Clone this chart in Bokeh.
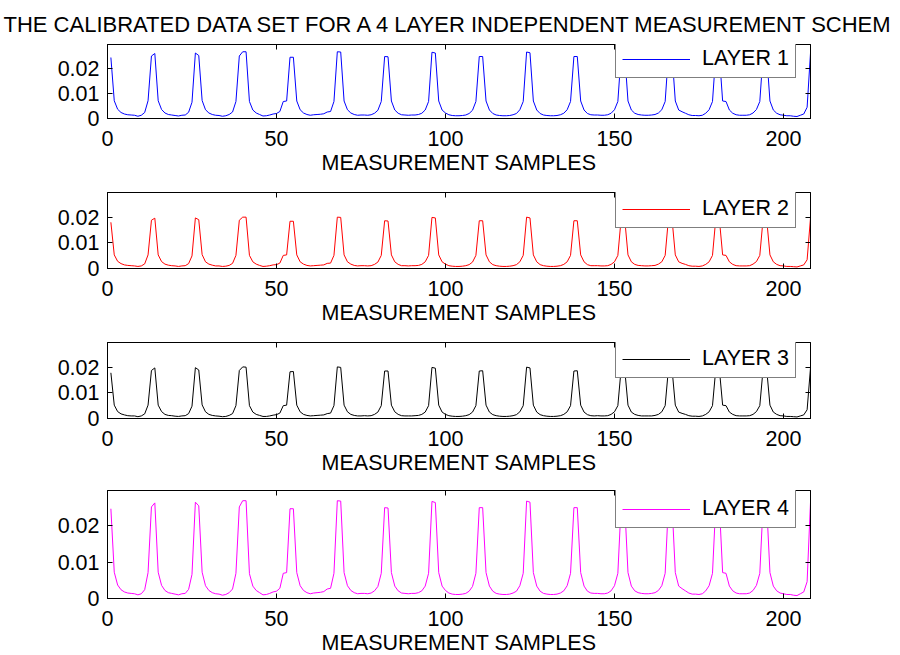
from bokeh.plotting import figure
from bokeh.layouts import column
from bokeh.models import Range1d, FixedTicker, LinearAxis, Legend, LegendItem
from bokeh.embed import file_html
from bokeh.resources import INLINE

TITLE = "THE CALIBRATED DATA SET FOR A 4 LAYER INDEPENDENT MEASUREMENT SCHEM"
X_LABEL = "MEASUREMENT SAMPLES"
X_TICKS = [0, 50, 100, 150, 200]
Y_TICKS = [0, 0.01, 0.02]
Y_TICK_LABELS = ["0", "0.01", "0.02"]
LABELS = ["LAYER 1", "LAYER 2", "LAYER 3", "LAYER 4"]
COLORS = ["#0000ff", "#ff0000", "#000000", "#ff00ff"]

layer1 = [
    .0244, .0071, .0037, .0024, .0018, .0015, .0014, .0013, .0009, .0013, .0024, .0071, .0250, .0260,
    .0071, .0036, .0022, .0016, .0014, .0012, .0010, .0013, .0014, .0025, .0065, .0262, .0252,
    .0072, .0035, .0022, .0016, .0013, .0012, .0009, .0011, .0016, .0026, .0068, .0250, .0267, .0267,
    .0068, .0034, .0022, .0016, .0010, .0011, .0014, .0018, .0020, .0028, .0068, .0070, .0245, .0245,
    .0070, .0035, .0022, .0016, .0013, .0015, .0016, .0017, .0019, .0026, .0028, .0068, .0267, .0266,
    .0070, .0035, .0022, .0016, .0013, .0014, .0014, .0013, .0015, .0021, .0033, .0068, .0248, .0247,
    .0070, .0034, .0021, .0015, .0014, .0013, .0014, .0014, .0016, .0021, .0034, .0068, .0265, .0262,
    .0070, .0034, .0022, .0015, .0012, .0011, .0011, .0012, .0014, .0020, .0033, .0068, .0248, .0248,
    .0070, .0034, .0020, .0014, .0012, .0011, .0011, .0012, .0015, .0020, .0035, .0068, .0266, .0263,
    .0070, .0034, .0020, .0014, .0012, .0011, .0011, .0012, .0015, .0021, .0035, .0068, .0248, .0248,
    .0070, .0034, .0020, .0015, .0014, .0014, .0013, .0013, .0015, .0021, .0035, .0068, .0262, .0262,
    .0070, .0034, .0021, .0016, .0014, .0013, .0013, .0014, .0016, .0022, .0035, .0068, .0265, .0263,
    .0070, .0034, .0027, .0021, .0015, .0012, .0012, .0011, .0013, .0021, .0035, .0068, .0262, .0262,
    .0070, .0068, .0034, .0021, .0015, .0013, .0013, .0013, .0015, .0022, .0036, .0068, .0262, .0262,
    .0070, .0034, .0021, .0015, .0013, .0011, .0011, .0009, .0008, .0013, .0018, .0045, .0262,
]

layer2 = [
    .0180, .0053, .0028, .0019, .0014, .0012, .0011, .0010, .0008, .0010, .0018, .0053, .0188, .0196,
    .0053, .0027, .0017, .0013, .0011, .0010, .0008, .0010, .0011, .0019, .0049, .0197, .0190,
    .0054, .0026, .0017, .0013, .0010, .0010, .0008, .0009, .0012, .0020, .0051, .0188, .0200, .0200,
    .0051, .0026, .0017, .0012, .0008, .0009, .0011, .0014, .0015, .0021, .0051, .0053, .0184, .0184,
    .0053, .0026, .0017, .0012, .0010, .0011, .0012, .0013, .0014, .0020, .0021, .0051, .0200, .0199,
    .0053, .0026, .0017, .0012, .0010, .0011, .0011, .0010, .0011, .0016, .0025, .0051, .0186, .0185,
    .0053, .0026, .0016, .0011, .0011, .0010, .0011, .0011, .0012, .0016, .0026, .0051, .0199, .0197,
    .0053, .0026, .0017, .0011, .0009, .0008, .0008, .0009, .0011, .0015, .0025, .0051, .0186, .0186,
    .0053, .0026, .0015, .0011, .0009, .0008, .0008, .0009, .0011, .0015, .0026, .0051, .0200, .0197,
    .0053, .0026, .0015, .0011, .0009, .0008, .0008, .0009, .0011, .0016, .0026, .0051, .0186, .0186,
    .0053, .0026, .0015, .0011, .0011, .0011, .0010, .0010, .0011, .0016, .0026, .0051, .0197, .0197,
    .0053, .0026, .0016, .0012, .0011, .0010, .0010, .0011, .0012, .0017, .0026, .0051, .0199, .0197,
    .0053, .0026, .0020, .0016, .0011, .0009, .0009, .0008, .0010, .0016, .0026, .0051, .0197, .0197,
    .0053, .0051, .0026, .0016, .0011, .0010, .0010, .0010, .0011, .0017, .0027, .0051, .0197, .0197,
    .0053, .0026, .0016, .0011, .0010, .0008, .0008, .0007, .0006, .0010, .0014, .0034, .0197,
]

layer3 = [
    .0178, .0052, .0027, .0018, .0014, .0011, .0010, .0010, .0007, .0010, .0018, .0052, .0187, .0197,
    .0052, .0027, .0016, .0012, .0011, .0009, .0008, .0010, .0011, .0019, .0048, .0198, .0189,
    .0053, .0026, .0016, .0012, .0010, .0009, .0007, .0008, .0012, .0019, .0050, .0187, .0201, .0200,
    .0050, .0025, .0016, .0012, .0008, .0008, .0010, .0013, .0015, .0021, .0050, .0052, .0182, .0183,
    .0052, .0026, .0016, .0012, .0010, .0011, .0012, .0013, .0014, .0019, .0021, .0050, .0201, .0199,
    .0052, .0026, .0016, .0012, .0010, .0010, .0011, .0010, .0011, .0016, .0025, .0050, .0185, .0185,
    .0052, .0026, .0016, .0011, .0010, .0010, .0010, .0011, .0012, .0016, .0025, .0050, .0199, .0196,
    .0052, .0025, .0016, .0011, .0009, .0008, .0008, .0009, .0011, .0015, .0025, .0050, .0185, .0186,
    .0052, .0025, .0015, .0011, .0009, .0008, .0008, .0009, .0011, .0015, .0026, .0050, .0200, .0197,
    .0052, .0025, .0015, .0011, .0009, .0008, .0008, .0009, .0011, .0016, .0026, .0050, .0185, .0186,
    .0052, .0025, .0015, .0011, .0010, .0011, .0010, .0010, .0011, .0016, .0026, .0050, .0197, .0196,
    .0052, .0025, .0016, .0012, .0010, .0010, .0010, .0010, .0012, .0016, .0026, .0050, .0199, .0197,
    .0052, .0025, .0020, .0016, .0011, .0009, .0009, .0008, .0010, .0016, .0026, .0050, .0196, .0197,
    .0052, .0050, .0025, .0016, .0011, .0010, .0010, .0010, .0011, .0016, .0027, .0050, .0196, .0197,
    .0052, .0025, .0016, .0011, .0010, .0008, .0008, .0007, .0006, .0010, .0014, .0034, .0197,
]

layer4 = [
    .0246, .0072, .0037, .0024, .0018, .0015, .0014, .0013, .0010, .0013, .0024, .0071, .0251, .0262,
    .0072, .0036, .0022, .0016, .0014, .0012, .0010, .0013, .0014, .0025, .0066, .0264, .0254,
    .0072, .0035, .0022, .0016, .0013, .0012, .0009, .0011, .0016, .0026, .0069, .0251, .0268, .0268,
    .0068, .0034, .0022, .0016, .0010, .0011, .0014, .0018, .0020, .0028, .0069, .0071, .0246, .0246,
    .0071, .0035, .0022, .0016, .0013, .0015, .0016, .0017, .0019, .0026, .0028, .0069, .0268, .0267,
    .0071, .0035, .0022, .0016, .0013, .0014, .0014, .0013, .0015, .0021, .0033, .0069, .0249, .0248,
    .0071, .0034, .0021, .0015, .0014, .0013, .0014, .0014, .0016, .0021, .0034, .0069, .0266, .0263,
    .0071, .0034, .0022, .0015, .0012, .0011, .0011, .0012, .0014, .0020, .0033, .0069, .0249, .0249,
    .0071, .0034, .0020, .0014, .0012, .0011, .0011, .0012, .0015, .0020, .0035, .0069, .0267, .0264,
    .0071, .0034, .0020, .0014, .0012, .0011, .0011, .0012, .0015, .0021, .0035, .0069, .0249, .0249,
    .0071, .0034, .0020, .0015, .0014, .0014, .0013, .0013, .0015, .0021, .0035, .0069, .0263, .0263,
    .0071, .0034, .0021, .0016, .0014, .0013, .0013, .0014, .0016, .0022, .0035, .0069, .0266, .0264,
    .0071, .0034, .0027, .0021, .0015, .0012, .0012, .0011, .0013, .0021, .0035, .0069, .0263, .0263,
    .0071, .0069, .0034, .0021, .0015, .0013, .0013, .0013, .0015, .0022, .0036, .0069, .0263, .0263,
    .0071, .0034, .0021, .0015, .0013, .0011, .0011, .0009, .0008, .0013, .0018, .0046, .0264,
]

samples = list(range(1, len(layer1) + 1))
LAYERS = [layer1, layer2, layer3, layer4]

FONT = "Liberation Sans"
FS = "21.5px"

# (border top, frame height, border bottom, legend y from frame bottom)
PANELS = [(44, 74, 64, 40), (10, 76, 64, 40), (10, 76, 64, 40), (8, 108, 57, 70)]


def style_axis(ax, ticks, labels=None, show_labels=True):
    ax.ticker = FixedTicker(ticks=ticks)
    ax.major_tick_in = 5
    ax.major_tick_out = 0
    ax.minor_tick_line_color = None
    ax.axis_line_color = "black"
    ax.major_tick_line_color = "black"
    ax.major_label_text_font = FONT
    ax.major_label_text_font_size = FS
    ax.major_label_text_color = "black"
    if show_labels:
        if labels is not None:
            ax.major_label_overrides = {t: l for t, l in zip(ticks, labels)}
    else:
        ax.major_label_overrides = {t: "" for t in ticks}
        ax.major_label_standoff = 0


figs = []
for i, (ys, color, label) in enumerate(zip(LAYERS, COLORS, LABELS)):
    top, fh, bottom, leg_y = PANELS[i]
    p = figure(frame_width=703, frame_height=fh,
               min_border_left=107, min_border_right=90,
               min_border_top=top, min_border_bottom=bottom,
               x_range=Range1d(0, 208), y_range=Range1d(0, 0.0296),
               output_backend="svg", toolbar_location=None,
               background_fill_color="white", border_fill_color="white")
    p.xgrid.visible = False
    p.ygrid.visible = False
    p.outline_line_color = "black"
    p.outline_line_width = 1
    r = p.line(samples, ys, line_color=color, line_width=1)

    style_axis(p.xaxis[0], X_TICKS)
    p.xaxis[0].major_label_standoff = 12
    p.xaxis[0].axis_label = X_LABEL
    p.xaxis[0].axis_label_text_font = FONT
    p.xaxis[0].axis_label_text_font_size = FS
    p.xaxis[0].axis_label_text_font_style = "normal"
    p.xaxis[0].axis_label_text_color = "black"
    p.xaxis[0].axis_label_standoff = 2
    style_axis(p.yaxis[0], Y_TICKS, Y_TICK_LABELS)
    p.yaxis[0].major_label_standoff = 8

    top_ax = LinearAxis()
    style_axis(top_ax, X_TICKS, show_labels=False)
    p.add_layout(top_ax, "above")
    right_ax = LinearAxis()
    style_axis(right_ax, Y_TICKS, show_labels=False)
    p.add_layout(right_ax, "right")

    legend = Legend(items=[LegendItem(label=label, renderers=[r])],
                    location=(508, leg_y), orientation="vertical",
                    padding=6, margin=0, spacing=0,
                    glyph_width=68, glyph_height=20, label_standoff=12,
                    label_text_font=FONT, label_text_font_size=FS,
                    label_text_color="black",
                    border_line_color="black", border_line_width=1,
                    background_fill_color="white", background_fill_alpha=1)
    p.add_layout(legend, "center")

    if i == 0:
        p.title.text = TITLE
        p.title.text_font = FONT
        p.title.text_font_size = "22px"
        p.title.text_font_style = "normal"
        p.title.text_color = "black"
        p.title.align = "left"
        p.title.offset = -104
        p.title.vertical_align = "top"
        p.title.standoff = 12
    figs.append(p)

layout = column(*figs, spacing=0)
open("out.html", "w").write(file_html(layout, INLINE))
